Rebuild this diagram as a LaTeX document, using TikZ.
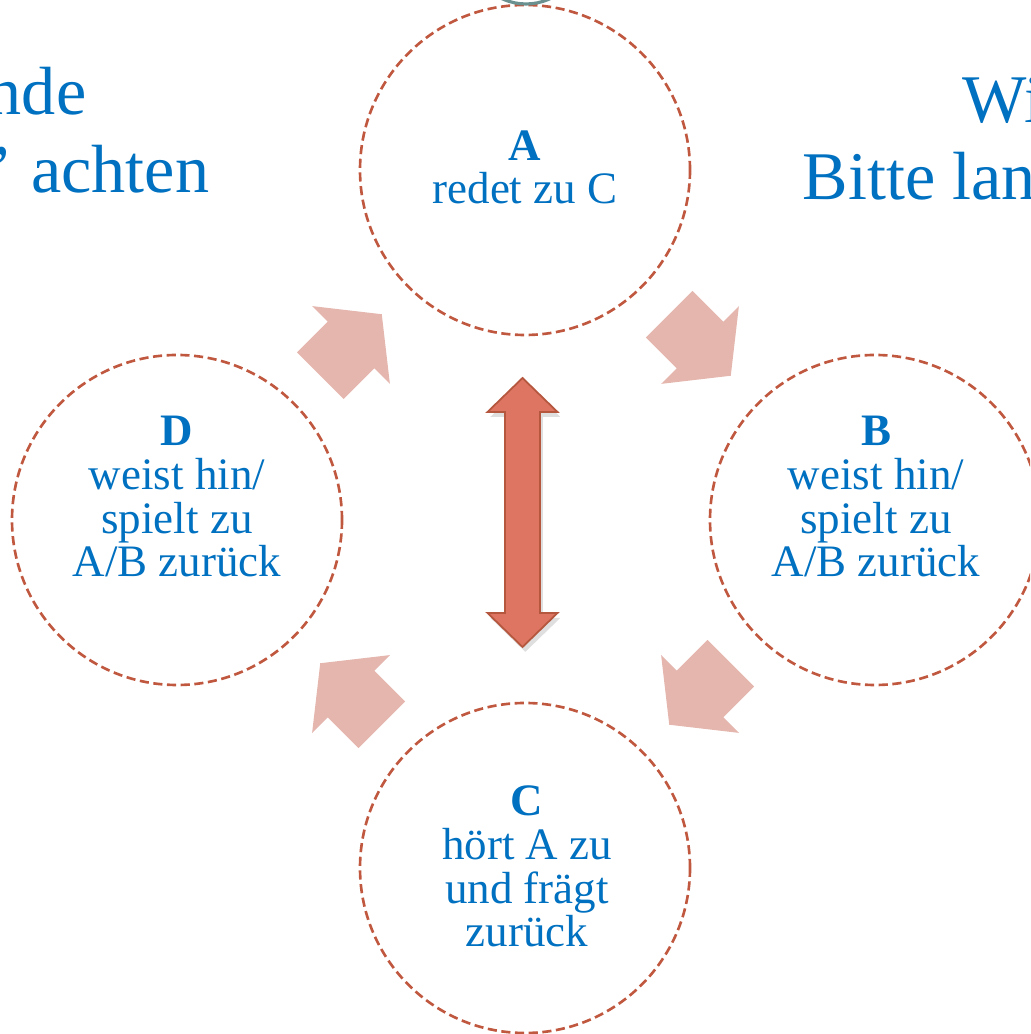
\documentclass[tikz,border=0pt]{standalone}
\usepackage{fontspec}
\setmainfont{Liberation Serif}
\usetikzlibrary{calc, positioning, shadows}

\definecolor{txtblue}{HTML}{0070C0}
\definecolor{ringred}{HTML}{C0583F}
\definecolor{flowpink}{HTML}{E4B6AE}
\definecolor{talkfill}{HTML}{DD7562}
\definecolor{talkline}{HTML}{B5573F}
\definecolor{topgrey}{HTML}{6A9090}

\begin{document}
\begin{tikzpicture}[line cap=round,line join=round,x=1.0cm,y=1.0cm,
  role/.style={circle, draw=ringred, line cap=butt, dash pattern=on 2.6pt off 1.3pt,
    line width=0.75pt, minimum size=3.3cm, inner sep=0pt},
  say/.style={text=txtblue, align=center, inner sep=0pt,
    font=\fontsize{12.8}{12.5}\selectfont},
  big/.style={text=txtblue, inner sep=0pt, font=\fontsize{19.4}{22}\selectfont},
  flow/.style={fill=flowpink, line join=miter},
  swap/.style={fill=talkfill, draw=talkline, line width=0.5pt, line join=miter,
    drop shadow={shadow xshift=0.8pt, shadow yshift=-1.4pt, opacity=0.25}}]
\useasboundingbox (0,0) rectangle (10.30,10.34);
\clip (0,0) rectangle (10.30,10.34);

% the four roles
\node[role] (A) at (5.25, 8.64) {};
\node[role] (B) at (8.75, 5.14) {};
\node[role] (C) at (5.25, 1.66) {};
\node[role] (D) at (1.77, 5.14) {};

\draw[topgrey, line width=0.9pt] (5.26, 10.87) circle (0.57);

% passing round
\coordinate (DA) at ($(D)!0.5!(A)$);
\coordinate (AB) at ($(A)!0.5!(B)$);
\coordinate (BC) at ($(B)!0.5!(C)$);
\coordinate (CD) at ($(C)!0.5!(D)$);
\foreach \p/\a in {DA/45, AB/-45, BC/-135, CD/135}
  \fill[flow, shift={(\p)}, rotate=\a] (-0.435,-0.33) -- (0,-0.33) -- (0,-0.55)
    -- (0.435,0) -- (0,0.55) -- (0,0.33) -- (-0.435,0.33) -- cycle;

\coordinate (talk) at (5.225, 5.215);
\filldraw[swap, shift={(talk)}] (0,1.345) -- (0.35,1.005) -- (0.175,1.005)
  -- (0.175,-1.005) -- (0.35,-1.005) -- (0,-1.345) -- (-0.35,-1.005)
  -- (-0.175,-1.005) -- (-0.175,1.005) -- (-0.35,1.005) -- cycle;

\node[say, anchor=base] (Atxt) at (5.25, 8.30) {\textbf{A}\\redet zu C};
\node[say, anchor=base] (Btxt) at (8.76, 4.57) {\textbf{B}\\weist hin/\\spielt zu\\A/B zurück};
\node[say, anchor=base] (Ctxt) at (5.27, 0.87) {\textbf{C}\\hört A zu\\und frägt\\zurück};
\node[say, anchor=base] (Dtxt) at (1.77, 4.57) {\textbf{D}\\weist hin/\\spielt zu\\A/B zurück};

\node[big, anchor=base east] (lefttop) at (0.87, 9.19) {nde};
\node[big, anchor=base east] (leftbot) at (2.10, 8.41) {”\hspace{0.06em} achten};
\node[big, anchor=base west] (righttop) at (9.62, 9.11) {Wi};
\node[big, anchor=base west] (rightbot) at (8.02, 8.34) {Bitte lan};

\end{tikzpicture}
\end{document}
